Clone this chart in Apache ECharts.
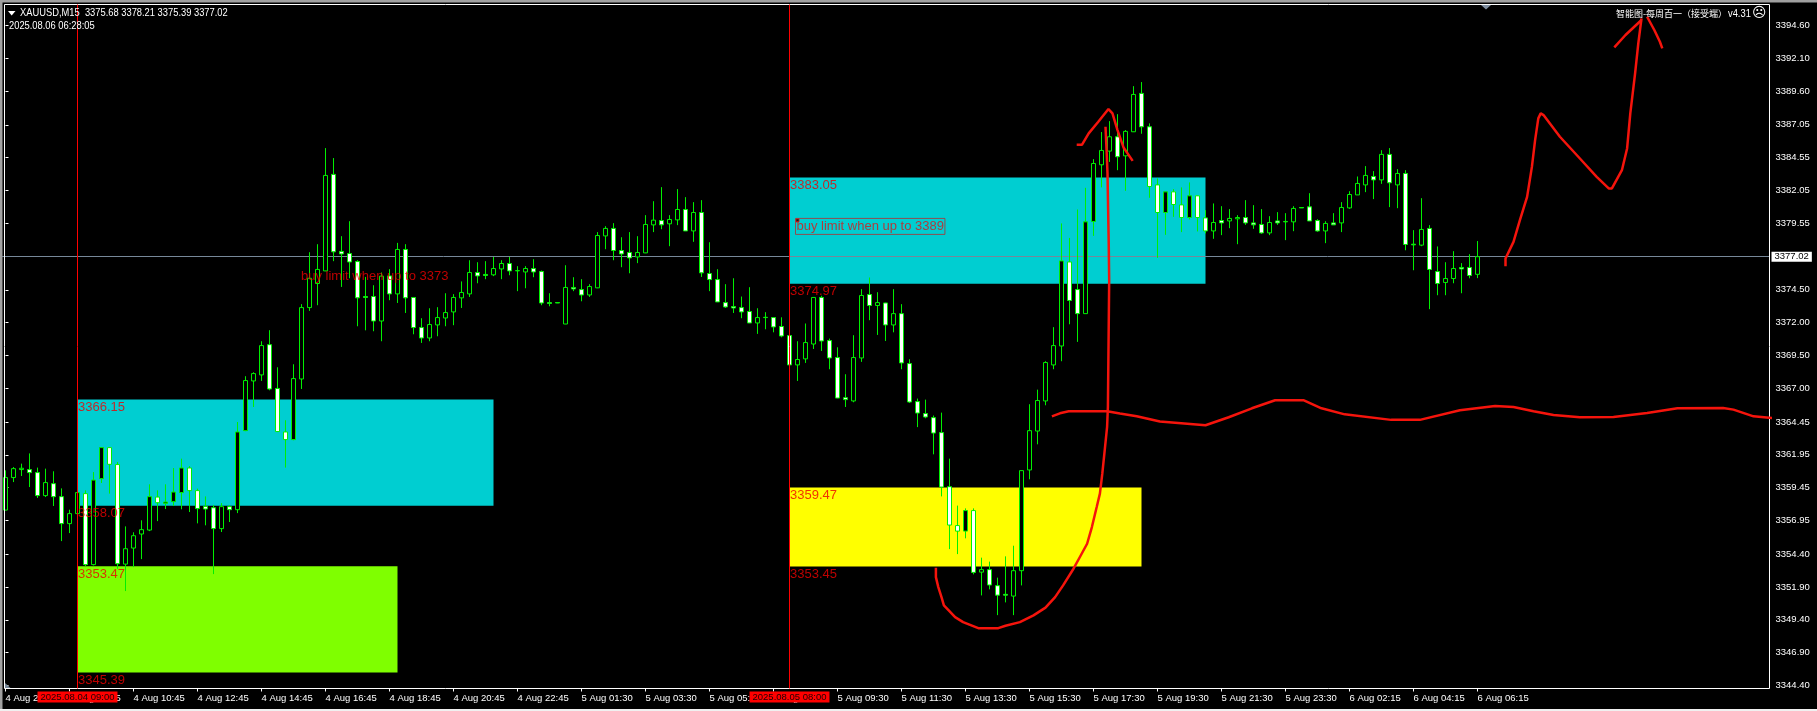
<!DOCTYPE html>
<html><head><meta charset="utf-8">
<style>html,body{margin:0;padding:0;background:#000}#c{width:1817px;height:711px}</style>
<script src="https://cdn.jsdelivr.net/npm/echarts@6/dist/echarts.min.js"></script>
</head><body><div id="c"></div>
<script>
const opens=[3357.75,3360.22,3360.83,3360.83,3360.60,3358.85,3359.76,3358.77,3356.72,3357.48,3359.00,3353.60,3360.14,3362.50,3361.21,3353.64,3354.86,3355.93,3356.23,3358.74,3358.26,3358.39,3359.08,3360.95,3359.23,3358.03,3357.93,3356.34,3358.01,3357.78,3363.79,3367.57,3368.03,3370.33,3367.00,3363.69,3363.11,3367.72,3373.15,3374.98,3375.94,3383.28,3377.42,3377.26,3376.65,3373.99,3373.99,3372.13,3375.56,3374.19,3377.57,3373.92,3371.63,3370.84,3371.83,3372.36,3372.82,3373.89,3374.19,3375.82,3375.67,3375.64,3376.09,3376.50,3375.94,3375.86,3376.12,3375.89,3373.53,3373.53,3371.90,3374.68,3374.52,3374.11,3374.65,3378.60,3379.17,3377.49,3377.34,3377.00,3377.31,3379.44,3379.77,3379.52,3379.82,3380.61,3378.98,3380.38,3375.74,3375.28,3373.53,3373.23,3373.15,3372.85,3371.98,3372.41,3372.39,3371.71,3371.02,3368.79,3369.25,3370.38,3373.92,3370.64,3369.35,3366.30,3366.05,3369.32,3374.14,3373.31,3373.50,3371.83,3372.69,3368.89,3366.00,3365.09,3364.78,3363.64,3359.53,3356.57,3356.15,3357.71,3353.03,3353.22,3352.00,3351.34,3351.21,3353.14,3360.80,3363.76,3366.05,3368.79,3370.23,3376.62,3374.52,3372.69,3379.70,3384.01,3385.05,3386.14,3384.69,3386.52,3389.44,3386.90,3382.48,3380.38,3381.95,3380.96,3380.00,3381.65,3379.97,3378.98,3379.77,3379.74,3379.90,3380.00,3379.59,3379.47,3378.83,3379.74,3379.70,3379.67,3380.76,3380.81,3379.77,3378.98,3379.59,3379.59,3380.73,3381.72,3382.48,3383.12,3382.86,3384.80,3382.48,3383.35,3377.97,3377.90,3379.17,3375.89,3375.06,3375.36,3376.20,3376.20,3375.68];
const closes=[3360.22,3360.90,3360.93,3360.60,3358.85,3359.84,3358.77,3356.72,3357.48,3359.08,3353.60,3360.03,3362.50,3361.23,3353.67,3354.81,3355.80,3356.26,3358.77,3358.31,3358.36,3359.12,3360.95,3359.23,3357.86,3357.83,3356.34,3358.01,3357.78,3363.69,3367.60,3368.13,3370.26,3366.96,3363.72,3363.11,3367.75,3373.15,3375.38,3376.05,3383.20,3377.39,3377.23,3376.62,3373.89,3373.92,3372.13,3375.54,3374.19,3377.57,3373.89,3371.63,3370.84,3371.86,3372.39,3372.77,3373.92,3374.30,3375.82,3375.56,3375.59,3376.12,3376.50,3375.94,3375.97,3376.12,3375.86,3373.50,3373.46,3373.50,3374.68,3374.57,3374.11,3374.75,3378.63,3379.17,3377.49,3377.23,3376.93,3377.34,3379.47,3379.80,3379.44,3379.85,3380.61,3378.98,3380.38,3375.79,3375.28,3373.58,3373.20,3373.12,3372.82,3371.98,3372.39,3372.39,3371.68,3370.99,3368.79,3369.20,3370.49,3373.92,3370.61,3369.32,3366.27,3366.15,3369.35,3374.07,3373.31,3373.53,3371.83,3372.69,3368.94,3365.97,3365.13,3364.83,3363.61,3359.50,3356.61,3356.15,3357.71,3353.01,3353.22,3352.05,3351.28,3351.28,3353.14,3360.75,3363.79,3366.08,3368.97,3370.26,3376.70,3373.69,3372.69,3379.67,3384.11,3385.10,3386.14,3384.62,3386.55,3389.36,3386.90,3382.36,3380.38,3381.95,3380.99,3380.00,3381.65,3380.00,3378.98,3379.62,3379.59,3379.93,3380.00,3379.59,3379.44,3378.83,3379.62,3379.59,3379.67,3380.69,3380.73,3379.74,3378.98,3379.55,3379.44,3380.76,3381.75,3382.59,3383.20,3382.86,3384.80,3382.64,3383.35,3377.95,3377.92,3379.09,3376.05,3374.98,3375.36,3376.12,3376.09,3375.59,3377.02];
const lows=[3357.73,3359.88,3360.34,3359.50,3358.67,3358.74,3358.06,3355.39,3356.00,3357.42,3353.49,3353.54,3359.81,3359.00,3353.29,3351.59,3353.41,3354.02,3356.15,3356.91,3357.83,3358.06,3357.81,3357.60,3356.74,3356.59,3352.88,3356.08,3356.84,3357.52,3363.75,3365.59,3367.57,3366.86,3363.69,3360.98,3363.06,3366.96,3372.90,3373.33,3375.92,3376.68,3374.72,3375.38,3371.73,3371.42,3371.35,3370.59,3373.71,3373.50,3372.74,3371.12,3370.46,3370.59,3370.97,3371.73,3371.81,3373.12,3373.96,3375.00,3375.31,3375.54,3375.31,3375.61,3374.40,3374.62,3375.46,3373.33,3373.25,3373.49,3371.89,3374.40,3373.63,3373.96,3374.63,3377.59,3376.75,3376.22,3375.76,3376.53,3377.29,3378.89,3379.11,3377.82,3379.42,3378.97,3378.15,3375.48,3374.40,3373.57,3373.12,3372.74,3372.34,3371.97,3371.15,3371.50,3371.27,3370.89,3368.77,3367.57,3368.94,3370.00,3369.85,3368.46,3366.26,3365.59,3365.95,3369.02,3372.19,3371.07,3370.61,3371.27,3368.46,3365.89,3364.06,3364.73,3361.99,3358.79,3354.78,3354.40,3355.60,3352.86,3351.26,3351.72,3349.76,3350.73,3349.76,3352.02,3360.09,3362.75,3365.72,3368.46,3369.07,3371.88,3370.54,3372.68,3378.60,3382.29,3384.23,3383.60,3382.03,3386.50,3386.37,3381.50,3376.93,3378.68,3380.05,3378.89,3379.85,3378.94,3378.79,3378.38,3378.66,3379.19,3377.97,3379.44,3379.14,3378.76,3378.66,3379.44,3378.28,3378.96,3380.73,3379.73,3378.91,3378.05,3379.43,3378.89,3380.66,3381.71,3381.93,3381.40,3382.56,3380.79,3380.71,3377.51,3375.99,3377.82,3373.03,3374.09,3374.09,3375.00,3374.24,3375.38,3375.39];
const highs=[3360.77,3361.02,3361.28,3362.06,3360.98,3360.90,3360.70,3359.40,3357.78,3359.10,3359.25,3360.64,3362.52,3362.52,3361.41,3356.51,3356.06,3356.97,3359.71,3359.25,3359.71,3360.95,3361.66,3361.10,3359.38,3358.79,3358.13,3358.28,3358.13,3364.45,3367.93,3368.23,3370.59,3371.43,3368.61,3364.58,3368.84,3373.41,3377.36,3377.97,3385.28,3384.52,3378.58,3379.72,3376.75,3375.48,3374.85,3375.82,3376.07,3378.07,3377.97,3373.94,3372.34,3373.10,3373.18,3374.24,3374.17,3375.14,3376.75,3376.60,3376.68,3377.00,3376.75,3377.00,3376.30,3376.30,3376.83,3375.97,3374.24,3373.54,3376.37,3375.46,3375.31,3374.93,3378.89,3379.34,3379.57,3378.50,3378.89,3378.58,3380.18,3381.24,3382.31,3380.18,3382.16,3381.55,3381.17,3381.32,3378.12,3376.07,3374.93,3375.38,3373.99,3374.70,3373.10,3372.80,3372.41,3372.41,3371.05,3370.59,3371.94,3373.94,3374.05,3370.79,3370.13,3368.08,3371.05,3374.55,3375.44,3374.32,3373.52,3374.55,3373.41,3369.22,3366.23,3366.15,3364.94,3365.16,3361.66,3358.09,3357.88,3357.88,3354.13,3353.83,3352.61,3354.23,3355.04,3360.77,3365.80,3366.91,3369.07,3371.66,3379.55,3378.45,3380.61,3382.26,3384.44,3386.50,3387.33,3387.86,3386.65,3389.99,3390.30,3387.16,3382.97,3381.97,3382.16,3382.29,3382.67,3381.67,3380.56,3381.07,3380.86,3380.64,3380.18,3381.32,3380.94,3380.64,3380.10,3380.41,3380.33,3380.86,3380.77,3381.85,3379.87,3379.72,3380.33,3381.17,3382.00,3383.12,3383.91,3383.53,3385.12,3385.28,3383.68,3383.60,3379.04,3381.47,3379.42,3377.80,3376.60,3377.44,3376.53,3377.21,3378.21];

const tickLabels=["4 Aug 2025","4 Aug 08:45","4 Aug 10:45","4 Aug 12:45","4 Aug 14:45","4 Aug 16:45","4 Aug 18:45","4 Aug 20:45","4 Aug 22:45","5 Aug 01:30","5 Aug 03:30","5 Aug 05:30","5 Aug 07:30","5 Aug 09:30","5 Aug 11:30","5 Aug 13:30","5 Aug 15:30","5 Aug 17:30","5 Aug 19:30","5 Aug 21:30","5 Aug 23:30","6 Aug 02:15","6 Aug 04:15","6 Aug 06:15"];
const priceTicks=[3394.60,3392.10,3389.60,3387.05,3384.55,3382.05,3379.55,3374.50,3372.00,3369.50,3367.00,3364.45,3361.95,3359.45,3356.95,3354.40,3351.90,3349.40,3346.90,3344.40];
const barSlots=221, tickEvery=8, lastBar=184;
const categories=Array.from({length:barSlots},(_,k)=>String(k));
const bidPrice=3377.02;

// zones: [fromBar, toBar, topPrice, bottomPrice, colour]
const zoneCyanA=[9,61,3366.15,3358.07,'#00CED1'];
const zoneGreen=[9,49,3353.47,3345.39,'#7FFF00'];
const zoneCyanB=[98,150,3383.05,3374.97,'#00CED1'];
const zoneYellow=[98,142,3359.47,3353.45,'#FFFF00'];
const zones=[zoneCyanA,zoneGreen,zoneCyanB,zoneYellow];
const vLines=[[9,'2025.08.04 09:00'],[98,'2025.08.05 08:00']];

const buyTextA=[37,3376.07,'buy limit when up to 3373'];
const buyTextB=[99,3379.78,'buy limit when up to 3389'];

// hand-drawn strokes: [bar position, price]
const strokeBowl=[[116.3,3353.37],[116.3,3352.65],[116.6,3351.89],[117.0,3351.13],[117.3,3350.50],[117.9,3350.12],[118.7,3349.61],[119.7,3349.23],[121.6,3348.77],[124.1,3348.77],[125.0,3348.95],[126.8,3349.23],[128.5,3349.74],[130.0,3350.33],[131.2,3351.13],[132.2,3352.02],[133.5,3353.29],[134.3,3354.18],[135.2,3355.19],[135.8,3356.46],[136.4,3357.98],[136.8,3359.00],[137.1,3360.52],[137.4,3362.29],[137.7,3364.07],[137.8,3365.59],[137.96,3375.23],[137.9,3378.15],[137.75,3383.35],[137.67,3384.61],[137.5,3386.90]];
const strokePeak=[[133.9,3385.53],[134.55,3385.53],[135.4,3386.40],[136.6,3387.28],[137.87,3388.25],[138.37,3387.92],[139.0,3386.65],[139.75,3385.33],[140.9,3384.31]];
const strokeWave=[[130.8,3364.88],[131.8,3365.11],[132.9,3365.26],[137.7,3365.26],[139.3,3365.09],[141.4,3364.88],[144.3,3364.48],[150.0,3364.20],[152.9,3364.81],[155.8,3365.49],[158.7,3366.10],[162.3,3366.10],[164.5,3365.49],[167.4,3365.03],[173.2,3364.61],[176.8,3364.61],[181.8,3365.34],[186.2,3365.67],[188.5,3365.59],[191.0,3365.26],[193.5,3364.98],[196.8,3364.81],[201.0,3364.83],[205.2,3365.13],[209.0,3365.49],[214.7,3365.51],[216.0,3365.39],[218.5,3364.88],[221.0,3364.75],[223.5,3364.55],[225.6,3364.52],[225.7,3364.83]];
const strokeZig=[[187.5,3376.30],[187.5,3376.88],[188.5,3378.15],[189.3,3379.80],[190.2,3381.57],[190.8,3383.85],[191.2,3385.89],[191.6,3387.54],[191.9,3387.92],[192.25,3387.79],[194.3,3386.14],[196.8,3384.49],[198.9,3383.09],[200.4,3382.21],[200.8,3382.21],[202.05,3383.60],[202.7,3385.25],[203.1,3387.92],[203.7,3390.96],[204.1,3393.25],[204.5,3395.15]];
const strokeArrowL=[[201.1,3392.94],[202.5,3393.88],[204.5,3395.02]];
const strokeArrowR=[[205.2,3395.27],[206.1,3394.26],[206.8,3393.37],[207.1,3392.86]];
const strokes=[strokeBowl,strokePeak,strokeWave,strokeZig,strokeArrowL,strokeArrowR];

const headerText='XAUUSD,M15  3375.68 3378.21 3375.39 3377.02';
const clockText='2025.08.06 06:28:05';
const signalText='智能图-每周百一（接受端）';
const versionText='v4.31';

const SANS='"Liberation Sans",Arial,sans-serif';
const GREEN='#00f000', RED='#f5140c', LABEL_RED='#ee0000';
const SMALL=9.5;

const candles=opens.map((o,k)=>[o,closes[k],lows[k],highs[k]]);
const showTick=k=>k%tickEvery===0 && k<=lastBar;

const cornerLabels=[];
zones.forEach(z=>{cornerLabels.push([z[0],z[2]]);cornerLabels.push([z[0],z[3]]);});

const chart=echarts.init(document.getElementById('c'),null,{renderer:'canvas'});
chart.setOption({
  animation:false,
  backgroundColor:'#000',
  grid:{left:1.5,right:47.5,top:4.5,bottom:22.5,containLabel:false},
  xAxis:[{
    type:'category',data:categories,boundaryGap:true,
    axisLine:{show:false},
    axisTick:{show:true,alignWithLabel:true,length:3,interval:(k)=>showTick(k),lineStyle:{color:'#fff',width:1}},
    axisLabel:{show:true,interval:(k)=>showTick(k),align:'left',margin:5,color:'#fff',fontFamily:SANS,fontSize:SMALL,
      formatter:(v,k)=>tickLabels[Number(v)/tickEvery]||''},
    splitLine:{show:false}
  },{
    type:'value',show:false,min:-0.5,max:barSlots-0.5,splitLine:{show:false}
  }],
  yAxis:{
    type:'value',position:'right',min:3344.18,max:3396.20,scale:true,
    axisLine:{show:false},
    axisTick:{show:true,length:3,customValues:priceTicks,lineStyle:{color:'#fff'}},
    axisLabel:{show:true,customValues:priceTicks,margin:6,color:'#fff',fontFamily:SANS,fontSize:SMALL,formatter:v=>Number(v).toFixed(2)},
    splitLine:{show:false}
  },
  graphic:[
    {type:'rect',silent:true,z:100,shape:{x:0,y:0,width:1817,height:2.5},style:{fill:'#a0a0a0'}},
    {type:'rect',silent:true,z:100,shape:{x:0,y:0,width:2.5,height:711},style:{fill:'#a0a0a0'}},
    {type:'rect',silent:true,z:100,shape:{x:0,y:709,width:1817,height:2},style:{fill:'#f0f0f0'}},
    {type:'rect',silent:true,z:3,shape:{x:4.5,y:4.5,width:1765,height:684},style:{fill:'none',stroke:'#fff',lineWidth:1}},
    {type:'polygon',silent:true,z:100,shape:{points:[[8,11],[15.5,11],[11.7,15.5]]},style:{fill:'#fff'}},
    {type:'polygon',silent:true,z:100,shape:{points:[[1481,5],[1491,5],[1486,9.5]]},style:{fill:'#7f8ea0'}},
    {type:'polygon',silent:true,z:100,shape:{points:[[5,683],[10.5,688],[5,688]]},style:{fill:'#778899'}},
    {type:'text',silent:true,z:100,x:20,y:7,scaleX:0.82,style:{text:headerText,fill:'#fff',font:'11.4px '+SANS}},
    {type:'text',silent:true,z:100,x:9,y:20,scaleX:0.82,style:{text:clockText,fill:'#fff',font:'11.4px '+SANS}},
    {type:'text',silent:true,z:100,x:1616,y:9,style:{text:signalText,fill:'#fff',font:'9px "Noto Sans CJK SC",sans-serif'}},
    {type:'text',silent:true,z:100,x:1728,y:8,scaleX:0.82,style:{text:versionText,fill:'#fff',font:'11.4px '+SANS}},
    {type:'text',silent:true,z:100,x:1752,y:6,style:{text:'☹',fill:'#fff',font:'14px "DejaVu Sans"'}}
  ],
  series:[
    {
      type:'candlestick',data:candles,barWidth:5,clip:true,z:2,silent:true,
      itemStyle:{color:'#000',color0:'#fff',borderColor:GREEN,borderColor0:GREEN,borderColorDoji:GREEN,borderWidth:1},
      markArea:{silent:true,z:1,itemStyle:{opacity:1},label:{show:false},
        data:zones.map(z=>[{xAxis:z[0],yAxis:z[2],itemStyle:{color:z[4]}},{xAxis:z[1],yAxis:z[3]}])},
      markLine:{silent:true,z:1.5,symbol:'none',animation:false,
        lineStyle:{color:'#778899',width:1,type:'solid'},
        label:{show:true,position:'end',distance:2,formatter:bidPrice.toFixed(2),backgroundColor:'#fff',color:'#000',
          fontFamily:SANS,fontSize:SMALL,padding:[0,3,0,3],lineHeight:10},
        data:[{yAxis:bidPrice}]}
    },
    {
      type:'line',data:[],xAxisIndex:0,silent:true,z:5,
      markLine:{silent:true,z:5,symbol:'none',animation:false,
        lineStyle:{color:'#ff0000',width:1,type:'solid'},
        label:{show:true,position:'start',distance:3,backgroundColor:'#ff0000',color:'#200',
          fontFamily:SANS,fontSize:SMALL,padding:[0,3,0,3],lineHeight:11},
        data:vLines.map(v=>({xAxis:v[0],label:{formatter:v[1]}}))}
    },
    {
      type:'scatter',data:cornerLabels,xAxisIndex:0,symbolSize:1,silent:true,z:6,
      itemStyle:{color:'rgba(0,0,0,0)'},
      label:{show:true,position:[1,1.5],color:LABEL_RED,fontFamily:SANS,fontSize:13,lineHeight:14,formatter:p=>p.value[1].toFixed(2)}
    },
    {
      type:'scatter',data:[buyTextA.slice(0,2)],xAxisIndex:0,symbolSize:1,silent:true,z:6,
      itemStyle:{color:'rgba(0,0,0,0)'},
      label:{show:true,position:[0,0],color:LABEL_RED,fontFamily:SANS,fontSize:13,lineHeight:15,formatter:buyTextA[2]}
    },
    {
      type:'scatter',data:[buyTextB.slice(0,2)],xAxisIndex:0,symbol:'rect',symbolSize:3,silent:true,z:6,
      itemStyle:{color:'#000',borderColor:'#ff0000',borderWidth:1},
      label:{show:true,position:[0,0],color:'#d81818',fontFamily:SANS,fontSize:13,lineHeight:14,padding:[1,1,1,1],
        borderColor:'#b03030',borderWidth:1,formatter:buyTextB[2]}
    }
  ].concat(strokes.map(s=>({
    type:'line',data:s,xAxisIndex:1,clip:false,showSymbol:false,symbol:'none',silent:true,z:20,
    lineStyle:{color:RED,width:2.5}
  })))
});
</script></body></html>
